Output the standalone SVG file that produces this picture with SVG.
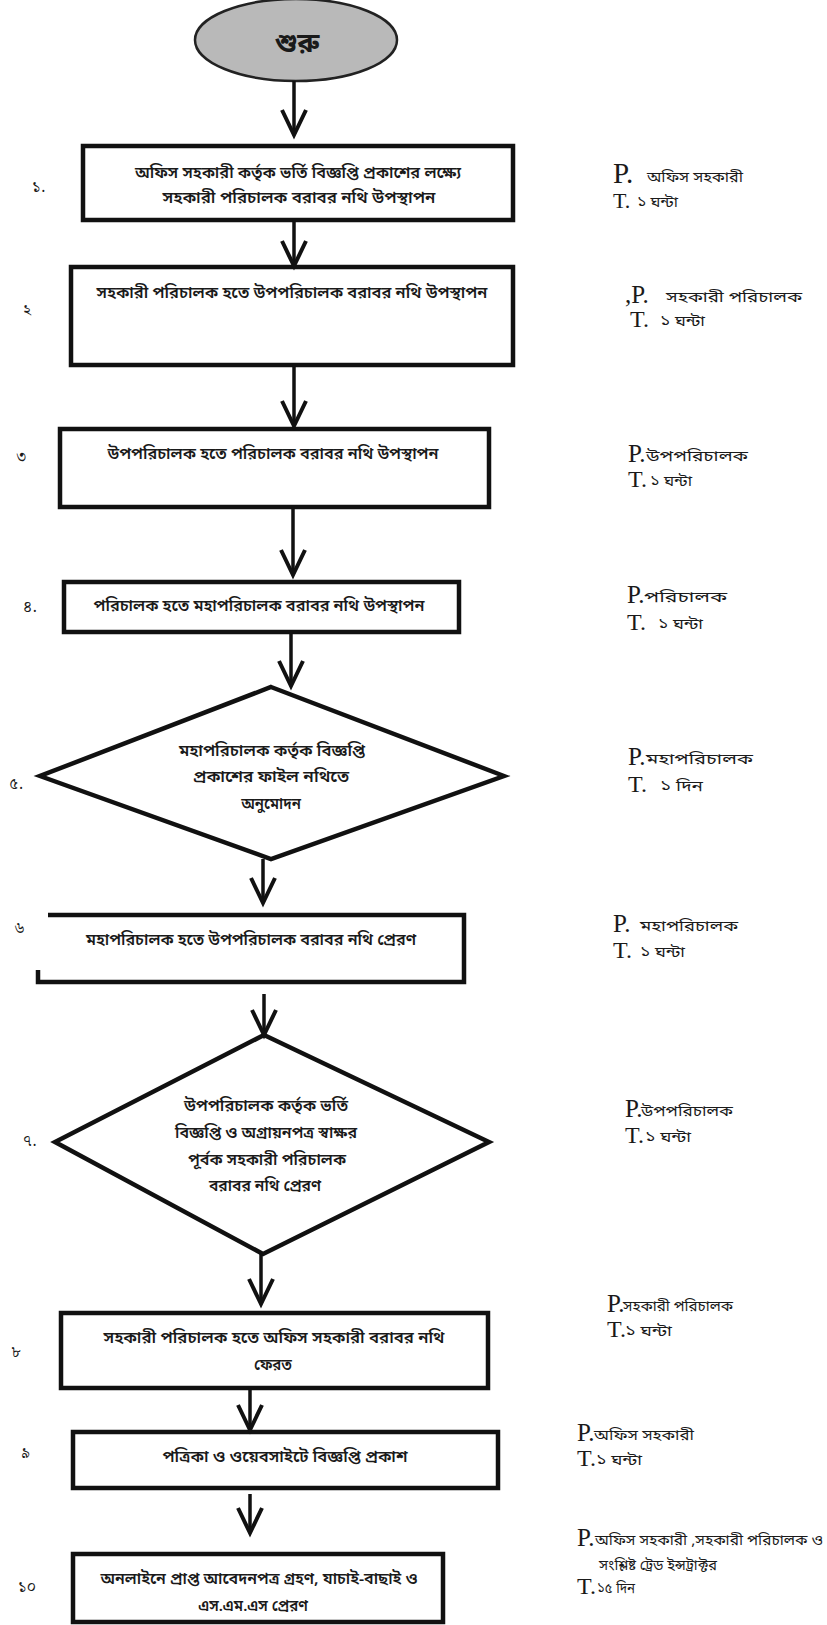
<svg xmlns="http://www.w3.org/2000/svg" width="827" height="1625" viewBox="0 0 827 1625">
<defs>
<marker id="ah" markerUnits="userSpaceOnUse" markerWidth="40" markerHeight="40" viewBox="-30 -20 40 40" refX="0" refY="0" orient="auto" overflow="visible">
<path d="M-25,-12 L0,0 L-25,12" fill="none" stroke="#111" stroke-width="4" stroke-linejoin="miter"/>
</marker>
</defs>
<style>
.bx{fill:#fff;stroke:#111;stroke-width:4.5}
.dm{fill:#fff;stroke:#111;stroke-width:4.5;stroke-linejoin:miter}
.t{font-family:"Noto Sans Bengali","Noto Serif Bengali","Lohit Bengali","FreeSans","Noto Sans",sans-serif;font-size:15px;font-weight:600;fill:#1a1a1a;text-anchor:middle}
.lb{font-family:"Noto Serif Bengali","Noto Sans Bengali","Lohit Bengali","Liberation Serif",serif;font-size:16px;fill:#1a1a1a}
.r{font-family:"Noto Sans Bengali","Noto Serif Bengali","Lohit Bengali","Noto Sans",sans-serif;font-size:15px;fill:#1a1a1a}
.pl{font-family:"Liberation Serif",serif;font-size:25px;fill:#1a1a1a}
.tl{font-family:"Liberation Serif",serif;font-size:24px;fill:#1a1a1a}
.cn{fill:none;stroke:#111;stroke-width:3.5}
</style>
<g id="start">
<ellipse cx="296" cy="40" rx="101" ry="41" fill="#b9b9b9" stroke="#222" stroke-width="2.5"/>
<text x="297" y="52" class="t" style="font-size:27px;font-weight:bold">শুরু</text>
</g>
<g id="step1">
<rect x="83" y="146" width="430" height="74" class="bx"/>
<text x="298" y="178" class="t" textLength="326" lengthAdjust="spacingAndGlyphs">অফিস সহকারী কর্তৃক ভর্তি বিজ্ঞপ্তি প্রকাশের লক্ষ্যে</text>
<text x="299" y="203" class="t" textLength="273" lengthAdjust="spacingAndGlyphs">সহকারী পরিচালক বরাবর  নথি উপস্থাপন</text>
<text x="32" y="192" class="lb">১.</text>
<text x="613" y="183" class="pl" style="font-size:29px">P.</text>
<text x="647" y="182" class="r" textLength="96" lengthAdjust="spacingAndGlyphs">অফিস সহকারী</text>
<text x="613" y="208" class="tl" style="font-size:22px">T.</text>
<text x="637" y="207" class="r" textLength="41" lengthAdjust="spacingAndGlyphs">১ ঘন্টা</text>
</g>
<g id="step2">
<rect x="71" y="267" width="442" height="98" class="bx"/>
<text x="292" y="298" class="t" textLength="391" lengthAdjust="spacingAndGlyphs">সহকারী পরিচালক হতে উপপরিচালক বরাবর নথি  উপস্থাপন</text>
<text x="23" y="315" class="lb">২</text>
<text x="625" y="303" class="pl">,P.</text>
<text x="666" y="302" class="r" textLength="136" lengthAdjust="spacingAndGlyphs">সহকারী পরিচালক</text>
<text x="630" y="327" class="tl">T.</text>
<text x="660" y="326" class="r" textLength="45" lengthAdjust="spacingAndGlyphs">১ ঘন্টা</text>
</g>
<g id="step3">
<rect x="60" y="429" width="429" height="78" class="bx"/>
<text x="273" y="459" class="t" textLength="331" lengthAdjust="spacingAndGlyphs">উপপরিচালক হতে পরিচালক বরাবর নথি উপস্থাপন</text>
<text x="16" y="461" class="lb">৩</text>
<text x="628" y="462" class="pl">P.</text>
<text x="646" y="461" class="r" textLength="102" lengthAdjust="spacingAndGlyphs">উপপরিচালক</text>
<text x="628" y="487" class="tl">T.</text>
<text x="650" y="486" class="r" textLength="42" lengthAdjust="spacingAndGlyphs">১ ঘন্টা</text>
</g>
<g id="step4">
<rect x="64" y="582" width="395" height="50" class="bx"/>
<text x="259" y="611" class="t" textLength="331" lengthAdjust="spacingAndGlyphs">পরিচালক হতে মহাপরিচালক বরাবর নথি উপস্থাপন</text>
<text x="23" y="612" class="lb">৪.</text>
<text x="627" y="603" class="pl">P.</text>
<text x="644" y="602" class="r" textLength="83" lengthAdjust="spacingAndGlyphs">পরিচালক</text>
<text x="627" y="630" class="tl">T.</text>
<text x="658" y="629" class="r" textLength="45" lengthAdjust="spacingAndGlyphs">১ ঘন্টা</text>
</g>
<g id="step5">
<polygon points="271,687 504,776 271,859 40,776" class="dm"/>
<text x="272" y="756" class="t" textLength="186" lengthAdjust="spacingAndGlyphs">মহাপরিচালক কর্তৃক  বিজ্ঞপ্তি</text>
<text x="271" y="782" class="t" textLength="156" lengthAdjust="spacingAndGlyphs">প্রকাশের ফাইল  নথিতে</text>
<text x="271" y="809" class="t">অনুমোদন</text>
<text x="9" y="789" class="lb">৫.</text>
<text x="628" y="765" class="pl">P.</text>
<text x="646" y="764" class="r" textLength="107" lengthAdjust="spacingAndGlyphs">মহাপরিচালক</text>
<text x="628" y="792" class="tl">T.</text>
<text x="660" y="791" class="r" textLength="43" lengthAdjust="spacingAndGlyphs">১ দিন</text>
</g>
<g id="step6">
<path d="M48,915 H464 V982 H38 V970" class="bx" style="fill:none"/>
<text x="251" y="945" class="t" textLength="330" lengthAdjust="spacingAndGlyphs">মহাপরিচালক হতে উপপরিচালক বরাবর নথি প্রেরণ</text>
<text x="14" y="933" class="lb">৬</text>
<text x="613" y="932" class="pl">P.</text>
<text x="640" y="931" class="r" textLength="98" lengthAdjust="spacingAndGlyphs">মহাপরিচালক</text>
<text x="613" y="958" class="tl">T.</text>
<text x="640" y="957" class="r" textLength="45" lengthAdjust="spacingAndGlyphs">১ ঘন্টা</text>
</g>
<g id="step7">
<polygon points="264,1035 489,1142 263,1254 55,1142" class="dm"/>
<text x="266" y="1111" class="t" textLength="164" lengthAdjust="spacingAndGlyphs">উপপরিচালক কর্তৃক ভর্তি</text>
<text x="266" y="1138" class="t" textLength="182" lengthAdjust="spacingAndGlyphs">বিজ্ঞপ্তি ও অগ্রায়নপত্র স্বাক্ষর</text>
<text x="267" y="1165" class="t" textLength="158" lengthAdjust="spacingAndGlyphs">পূর্বক সহকারী পরিচালক</text>
<text x="265" y="1191" class="t" textLength="112" lengthAdjust="spacingAndGlyphs">বরাবর নথি প্রেরণ</text>
<text x="23" y="1146" class="lb">৭.</text>
<text x="625" y="1117" class="pl">P.</text>
<text x="641" y="1116" class="r" textLength="92" lengthAdjust="spacingAndGlyphs">উপপরিচালক</text>
<text x="625" y="1143" class="tl">T.</text>
<text x="645" y="1142" class="r" textLength="46" lengthAdjust="spacingAndGlyphs">১ ঘন্টা</text>
</g>
<g id="step8">
<rect x="61" y="1313" width="427" height="75" class="bx"/>
<text x="274" y="1343" class="t" textLength="341" lengthAdjust="spacingAndGlyphs">সহকারী পরিচালক হতে অফিস সহকারী বরাবর  নথি</text>
<text x="273" y="1370" class="t">ফেরত</text>
<text x="11" y="1357" class="lb">৮</text>
<text x="607" y="1312" class="pl">P.</text>
<text x="623" y="1311" class="r" textLength="110" lengthAdjust="spacingAndGlyphs">সহকারী পরিচালক</text>
<text x="607" y="1337" class="tl">T.</text>
<text x="625" y="1336" class="r" textLength="47" lengthAdjust="spacingAndGlyphs">১ ঘন্টা</text>
</g>
<g id="step9">
<rect x="73" y="1432" width="425" height="56" class="bx"/>
<text x="285" y="1462" class="t" textLength="245" lengthAdjust="spacingAndGlyphs">পত্রিকা ও ওয়েবসাইটে বিজ্ঞপ্তি প্রকাশ</text>
<text x="21" y="1458" class="lb">৯</text>
<text x="577" y="1441" class="pl">P.</text>
<text x="594" y="1440" class="r" textLength="100" lengthAdjust="spacingAndGlyphs">অফিস সহকারী</text>
<text x="577" y="1466" class="tl">T.</text>
<text x="596" y="1465" class="r" textLength="46" lengthAdjust="spacingAndGlyphs">১ ঘন্টা</text>
</g>
<g id="step10">
<rect x="73" y="1554" width="370" height="68" class="bx"/>
<text x="259" y="1584" class="t" textLength="317" lengthAdjust="spacingAndGlyphs">অনলাইনে প্রাপ্ত আবেদনপত্র গ্রহণ, যাচাই-বাছাই ও</text>
<text x="253" y="1611" class="t">এস.এম.এস প্রেরণ</text>
<text x="18" y="1592" class="lb">১০</text>
<text x="577" y="1546" class="pl">P.</text>
<text x="595" y="1545" class="r" textLength="228" lengthAdjust="spacingAndGlyphs">অফিস সহকারী ,সহকারী পরিচালক ও</text>
<text x="599" y="1570" class="r" textLength="118" lengthAdjust="spacingAndGlyphs">সংশ্লিষ্ট ট্রেড ইন্সট্রাক্টর</text>
<text x="577" y="1594" class="tl">T.</text>
<text x="597" y="1593" class="r" textLength="38" lengthAdjust="spacingAndGlyphs">১৫ দিন</text>
</g>
<g id="connectors">
<path class="cn" d="M294,81 V135" marker-end="url(#ah)"/>
<path class="cn" d="M294,220 V266" marker-end="url(#ah)"/>
<path class="cn" d="M294,365 V426" marker-end="url(#ah)"/>
<path class="cn" d="M293,507 V575" marker-end="url(#ah)"/>
<path class="cn" d="M291,632 V686" marker-end="url(#ah)"/>
<path class="cn" d="M263,859 V903" marker-end="url(#ah)"/>
<path class="cn" d="M264,994 V1035" marker-end="url(#ah)"/>
<path class="cn" d="M261,1254 V1304" marker-end="url(#ah)"/>
<path class="cn" d="M250,1388 V1430" marker-end="url(#ah)"/>
<path class="cn" d="M250,1494 V1533" marker-end="url(#ah)"/>
</g>
</svg>
